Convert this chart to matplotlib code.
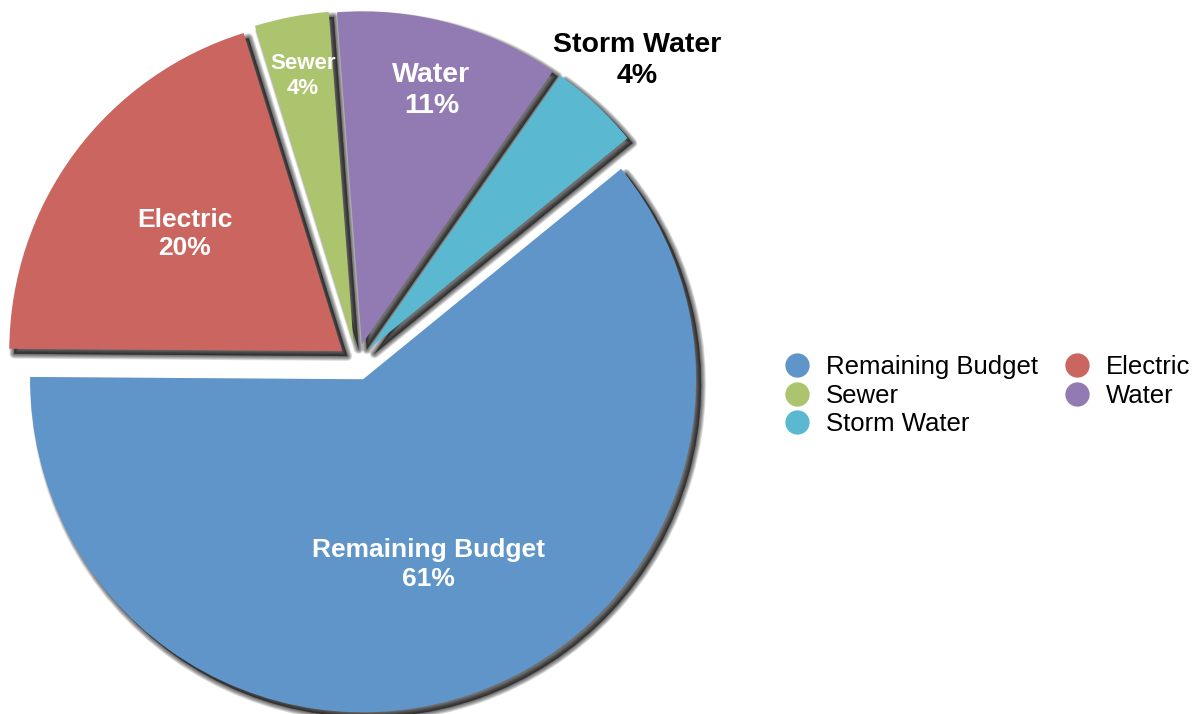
import matplotlib
matplotlib.use('Agg')
import matplotlib.pyplot as plt
import numpy as np
from matplotlib.patches import Wedge
from matplotlib.lines import Line2D
import matplotlib.transforms as mtransforms

# ---- data ----
categories = ['Remaining Budget', 'Electric', 'Sewer', 'Water', 'Storm Water']
shares = [61.0, 20.1, 3.6, 10.9, 4.4]
pct_labels = ['61%', '20%', '4%', '11%', '4%']
colors = ['#6095C9', '#CB655F', '#ABC46D', '#927AB3', '#5BB8D1']

plt.rcParams['font.family'] = ['Liberation Sans', 'DejaVu Sans']

W, H = 1200, 714
fig = plt.figure(figsize=(W / 100, H / 100), dpi=100)
ax = fig.add_axes([0, 0, 1, 1])

wedges, _ = ax.pie(shares, colors=colors, startangle=39.2, counterclock=False,
                   explode=[0.055] * len(shares), radius=1.0,
                   wedgeprops=dict(linewidth=0))

# pixel-based framing: pie centre at (357, 362) px from top-left, radius 333 px
cx_px, cy_px, r_px = 357, 362, 333
ax.set_xlim(-cx_px / r_px, (W - cx_px) / r_px)
ax.set_ylim(-(H - cy_px) / r_px, cy_px / r_px)
ax.set_aspect('equal')
ax.axis('off')

# soft drop shadows (offset down-right, blurred)
off = mtransforms.ScaledTranslation(5 / 100, -5 / 100, fig.dpi_scale_trans)
layers = [7.0, 6.0, 5.0, 4.0, 3.0, 2.0, 1.0]
for w in wedges:
    for lw in layers:
        s = Wedge(w.center, w.r, w.theta1, w.theta2,
                  facecolor=(0, 0, 0, 0.11), edgecolor=(0, 0, 0, 0.11),
                  linewidth=lw, joinstyle='round',
                  transform=ax.transData + off, zorder=0.5)
        ax.add_patch(s)

# slice labels
label_dist = [0.59, 0.59, 0.82, 0.79, 1.18]
label_size = [19, 19, 16, 20.5, 20.5]
label_color = ['white', 'white', 'white', 'white', 'black']
for w, name, pct, d, fs, tc in zip(wedges, categories, pct_labels,
                                    label_dist, label_size, label_color):
    th = np.deg2rad((w.theta1 + w.theta2) / 2)
    x0, y0 = w.center
    ax.text(x0 + d * np.cos(th), y0 + d * np.sin(th), f'{name}\n{pct}',
            ha='center', va='center', multialignment='center',
            fontsize=fs, fontweight='bold', color=tc, linespacing=1.25,
            zorder=5)

# legend (row-wise order across two columns)
handles = [Line2D([], [], marker='o', linestyle='none', markersize=17.5,
                  markerfacecolor=c, markeredgewidth=0) for c in colors]
order = [0, 2, 4, 1, 3]
fig.legend([handles[i] for i in order], [categories[i] for i in order],
           ncol=2, loc='upper left',
           bbox_to_anchor=(784.5 / W, 1 - 355 / H),
           frameon=False, fontsize=18.5, handlelength=1.0,
           handletextpad=0.62, columnspacing=1.02, labelspacing=0.18,
           borderpad=0, borderaxespad=0)

fig.savefig('out.png', dpi=100, facecolor='white')
